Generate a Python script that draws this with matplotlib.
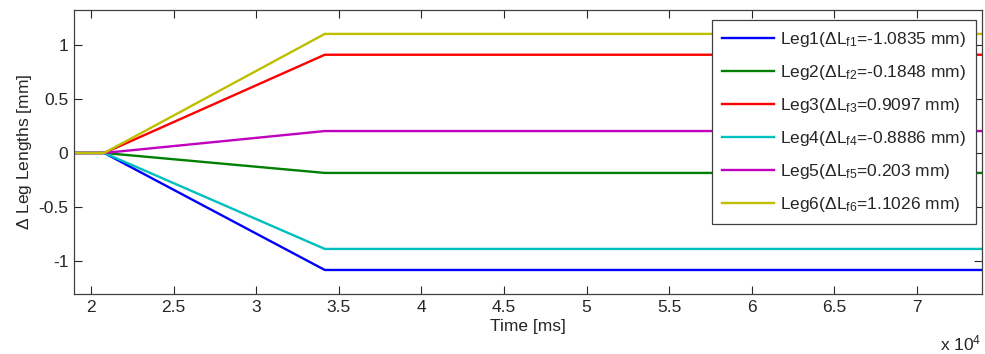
import numpy as np
import matplotlib
matplotlib.use('Agg')
import matplotlib.pyplot as plt
from matplotlib.ticker import FuncFormatter

plt.rcParams['font.family'] = ['Liberation Sans', 'DejaVu Sans']
plt.rcParams['mathtext.fontset'] = 'custom'
plt.rcParams['mathtext.rm'] = 'Liberation Sans'
plt.rcParams['mathtext.it'] = 'Liberation Sans'

# time breakpoints [ms]: rest, ramp start, ramp end, end of record
time_ms = [18970, 20800, 34150, 73930]
# final leg length changes [mm]
leg_names = ['Leg1', 'Leg2', 'Leg3', 'Leg4', 'Leg5', 'Leg6']
final_dl = [-1.0835, -0.1848, 0.9097, -0.8886, 0.203, 1.1026]
leg_colors = ['#0000ff', '#008000', '#ff0000', '#00bfbf', '#bf00bf', '#bfbf00']

txt_color = '#262626'
fs = 12.5

fig = plt.figure(figsize=(9.85, 3.54), dpi=100)
ax = fig.add_axes([74 / 985, 1 - 294 / 354, 908 / 985, 284 / 354])

for i, (name, dl, col) in enumerate(zip(leg_names, final_dl, leg_colors)):
    y = [0, 0, dl, dl]
    label = '%s($\\Delta$L$_{f%d}$=%s mm)' % (name, i + 1, ('%g' % dl))
    ax.plot(time_ms, y, color=col, lw=1.7, label=label)

ax.set_xlim(18970, 73930)
ax.set_ylim(-1.306, 1.324)
ax.set_xticks(np.arange(20000, 70001, 5000))
ax.xaxis.set_major_formatter(FuncFormatter(lambda v, p: '%g' % (v / 1e4)))
ax.set_yticks([-1, -0.5, 0, 0.5, 1])
ax.yaxis.set_major_formatter(FuncFormatter(lambda v, p: '%g' % v))

ax.tick_params(direction='in', length=6, width=0.8, top=True, right=True,
               labelsize=fs, colors=txt_color, pad=4)
for s in ax.spines.values():
    s.set_color('#404040')
    s.set_linewidth(0.9)

ax.set_xlabel('Time [ms]', fontsize=fs, color=txt_color, labelpad=3)
ax.set_ylabel('$\\Delta$ Leg Lengths [mm]', fontsize=fs, color=txt_color, labelpad=3)

fig.text(940 / 985, 1 - 343 / 354, 'x 10$^4$', fontsize=fs, color=txt_color,
         ha='left', va='center')

leg = ax.legend(loc='upper right', bbox_to_anchor=(0.9934, 0.9648),
                borderaxespad=0, fontsize=fs, handlelength=3.0,
                handletextpad=0.3, labelspacing=0.8, borderpad=0.6,
                fancybox=False, framealpha=1, edgecolor='#404040')
leg.get_frame().set_linewidth(0.9)
for t in leg.get_texts():
    t.set_color(txt_color)

fig.savefig('out.png', dpi=100)
